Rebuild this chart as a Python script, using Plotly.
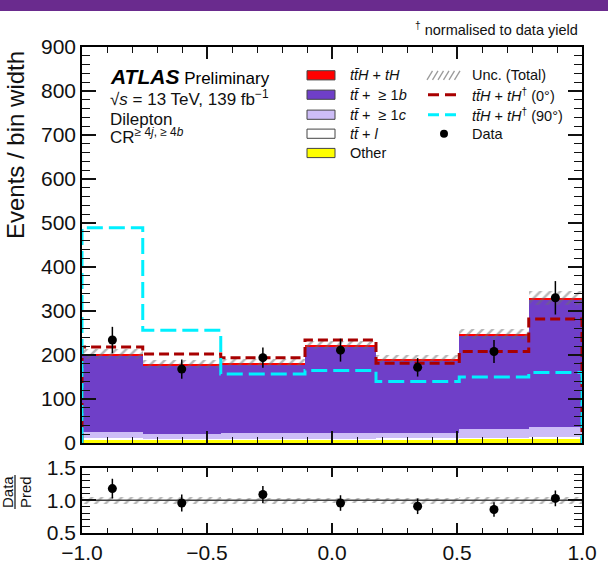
import plotly.graph_objects as go
from plotly.subplots import make_subplots

# ---------------- data ----------------
bin_edges = [-1.0, -0.757, -0.445, -0.108, 0.176, 0.509, 0.787, 1.0]
other = [9, 8, 8, 8, 9, 10, 11]
tt_light = [2, 2, 2, 2, 2, 2, 2]
tt_1c = [14, 10.5, 13.5, 13.5, 12.5, 19, 24]
tt_1b = [174, 156, 156, 196, 164, 213, 287]
tth = [3, 3, 3, 3, 3, 4, 5]
unc_total = [11, 9, 8, 9, 9, 12, 16]
cp0 = [218, 202, 194, 234, 181, 208, 282]
cp90 = [489, 256, 157, 165, 140, 150, 160]
data = [234, 168, 194, 211, 172, 208, 330]
data_err = [30, 22, 23, 26, 21, 26, 38]
ratio = [1.18, 0.96, 1.09, 0.96, 0.91, 0.86, 1.03]
ratio_err = [0.15, 0.13, 0.13, 0.12, 0.12, 0.11, 0.12]

y_ticks_main = [0, 100, 200, 300, 400, 500, 600, 700, 800, 900]
x_ticks = [-1.0, -0.5, 0.0, 0.5, 1.0]
y_ticks_ratio = [0.5, 1.0, 1.5]

# ---------------- derived ----------------
centers = [(a + b) / 2 for a, b in zip(bin_edges[:-1], bin_edges[1:])]
widths = [b - a for a, b in zip(bin_edges[:-1], bin_edges[1:])]
n = len(centers)


def subdivide(ticks, k):
    out = []
    for a, b in zip(ticks[:-1], ticks[1:]):
        for j in range(1, k):
            out.append(round(a + (b - a) * j / k, 6))
    return out


x_minor = subdivide(x_ticks, 5)
y_minor_main = subdivide(y_ticks_main, 5)
y_minor_ratio = subdivide(y_ticks_ratio, 5)

W, H = 608, 562
ML, MR, MT, MB = 82, 26, 47, 29
PW, PH = W - ML - MR, H - MT - MB


def px(x):
    return (x - ML) / PW


def py(y):
    return (H - MB - y) / PH


main_bottom = py(443)
ratio_top = py(467.7)

FONT = "Liberation Sans, Arial, Helvetica, sans-serif"

fig = make_subplots(rows=2, cols=1, shared_xaxes=False, vertical_spacing=0.0)

# stacked components
components = [
    ("Other", other, "#ffff00"),
    ("tt+l", tt_light, "#ffffff"),
    ("tt+>=1c", tt_1c, "#cdbdf7"),
    ("tt+>=1b", tt_1b, "#6f3fc8"),
    ("ttH+tH", tth, "#ff0000"),
]
base = [0.0] * n
for name, vals, col in components:
    fig.add_trace(go.Bar(x=centers, y=vals, base=list(base), width=widths,
                         marker=dict(color=col, line=dict(width=0)),
                         name=name, showlegend=False, hoverinfo="skip"),
                  row=1, col=1)
    base = [b + v for b, v in zip(base, vals)]
total = base

HATCH = dict(shape="/", fgcolor="#6e6e6e", size=7, solidity=0.35, fillmode="overlay")

# uncertainty hatch (main)
fig.add_trace(go.Bar(x=centers, y=[2 * u for u in unc_total],
                     base=[t - u for t, u in zip(total, unc_total)], width=widths,
                     marker=dict(color="rgba(0,0,0,0)", line=dict(width=0), pattern=HATCH),
                     showlegend=False, hoverinfo="skip"), row=1, col=1)


def step(vals):
    xs = [bin_edges[0]] + list(bin_edges) + [bin_edges[-1]]
    ys = [0] + list(vals) + [vals[-1], 0]
    return xs, ys


sx, sy = step(cp0)
fig.add_trace(go.Scatter(x=sx, y=sy, mode="lines", line_shape="hv",
                         line=dict(color="#a80000", width=3, dash="10px,5px"),
                         showlegend=False, hoverinfo="skip"), row=1, col=1)
sx, sy = step(cp90)
fig.add_trace(go.Scatter(x=sx, y=sy, mode="lines", line_shape="hv",
                         line=dict(color="#00f0ff", width=3, dash="16px,6px"),
                         showlegend=False, hoverinfo="skip"), row=1, col=1)

fig.add_trace(go.Scatter(x=centers, y=data, mode="markers",
                         marker=dict(color="black", size=9),
                         error_y=dict(type="data", array=data_err, color="black",
                                      thickness=1.5, width=0),
                         showlegend=False), row=1, col=1)

# ratio panel
rel = [u / t for u, t in zip(unc_total, total)]
fig.add_trace(go.Scatter(x=[bin_edges[0], bin_edges[-1]], y=[1, 1], mode="lines",
                         line=dict(color="#444444", width=1.5),
                         showlegend=False, hoverinfo="skip"), row=2, col=1)
fig.add_trace(go.Bar(x=centers, y=[2 * r for r in rel], base=[1 - r for r in rel],
                     width=widths,
                     marker=dict(color="rgba(0,0,0,0)", line=dict(width=0), pattern=HATCH),
                     showlegend=False, hoverinfo="skip"), row=2, col=1)
fig.add_trace(go.Scatter(x=centers, y=ratio, mode="markers",
                         marker=dict(color="black", size=9),
                         error_y=dict(type="data", array=ratio_err, color="black",
                                      thickness=1.5, width=0),
                         showlegend=False), row=2, col=1)

axis_common = dict(showline=True, linecolor="black", linewidth=1.5, mirror="allticks",
                   ticks="inside", tickcolor="#111111", tickwidth=1.6, showgrid=False,
                   zeroline=False, automargin=False, layer="above traces",
                   tickfont=dict(family=FONT, size=21, color="#111"))


def minor(vals, ln):
    return dict(ticks="inside", tickvals=vals, ticklen=ln,
                tickcolor="#111111", tickwidth=1.4)


fig.update_xaxes(range=[-1, 1], tickvals=x_ticks, ticklen=12, showticklabels=False,
                 minor=minor(x_minor, 6), domain=[0, 1], **axis_common, row=1, col=1)
fig.update_xaxes(range=[-1, 1], tickvals=x_ticks, ticklen=10, tickformat=".1f",
                 ticklabelstandoff=0, minor=minor(x_minor, 5),
                 domain=[0, 1], **axis_common, row=2, col=1)
fig.update_yaxes(range=[0, 900], tickvals=y_ticks_main, ticklen=14,
                 minor=minor(y_minor_main, 8),
                 domain=[main_bottom, 1], **axis_common, row=1, col=1)
fig.update_yaxes(range=[0.5, 1.5], tickvals=y_ticks_ratio, ticklen=14, tickformat=".1f",
                 minor=minor(y_minor_ratio, 8),
                 domain=[0, ratio_top], **axis_common, row=2, col=1)

shapes = []
annotations = []

# top purple banner strip
shapes.append(dict(type="rect", xref="paper", yref="paper", x0=px(0), x1=px(W),
                   y0=py(11), y1=py(0), fillcolor="#6a2b8e", line=dict(width=0), layer="above"))

# legend, left column
leg_rows = [75.3, 94.7, 114.7, 133.7, 153.0]
left_items = [
    ("#ff0000", "<i>tt\u0304H</i> + <i>tH</i>"),
    ("#6f3fc8", "<i>tt\u0304</i> +  \u2265 1<i>b</i>"),
    ("#cdbdf7", "<i>tt\u0304</i> +  \u2265 1<i>c</i>"),
    ("#ffffff", "<i>tt\u0304</i> + <i>l</i>"),
    ("#ffff00", "Other"),
]
LEGF = 14.5
for yrow, (col, txt) in zip(leg_rows, left_items):
    shapes.append(dict(type="rect", xref="paper", yref="paper",
                       x0=px(307), x1=px(335), y0=py(yrow + 4.6), y1=py(yrow - 4.6),
                       fillcolor=col, line=dict(color="#444444", width=1)))
    annotations.append(dict(xref="paper", yref="paper", x=px(348), y=py(yrow),
                            xanchor="left", yanchor="middle", showarrow=False, text=txt,
                            font=dict(family=FONT, size=LEGF, color="#111")))

# legend, right column
for i in range(6):
    x0 = 427 + 5.5 * i
    shapes.append(dict(type="line", xref="paper", yref="paper",
                       x0=px(x0), x1=px(x0 + 5.5), y0=py(leg_rows[0] + 4.5),
                       y1=py(leg_rows[0] - 4.5), line=dict(color="#9a9a9a", width=1.3)))
shapes.append(dict(type="line", xref="paper", yref="paper", x0=px(428), x1=px(460),
                   y0=py(leg_rows[1]), y1=py(leg_rows[1]),
                   line=dict(color="#a80000", width=3, dash="11px,6px")))
shapes.append(dict(type="line", xref="paper", yref="paper", x0=px(428), x1=px(460),
                   y0=py(leg_rows[2]), y1=py(leg_rows[2]),
                   line=dict(color="#00f0ff", width=3, dash="11px,6px")))
shapes.append(dict(type="circle", xref="paper", yref="paper", x0=px(440), x1=px(448),
                   y0=py(leg_rows[3] + 4), y1=py(leg_rows[3] - 4),
                   fillcolor="black", line=dict(color="black", width=0)))
right_items = [
    "Unc. (Total)",
    "<i>tt\u0304H</i> + <i>tH</i><sup>\u2020</sup> (0\u00b0)",
    "<i>tt\u0304H</i> + <i>tH</i><sup>\u2020</sup> (90\u00b0)",
    "Data",
]
for yrow, txt in zip(leg_rows, right_items):
    annotations.append(dict(xref="paper", yref="paper", x=px(470), y=py(yrow),
                            xanchor="left", yanchor="middle", showarrow=False, text=txt,
                            font=dict(family=FONT, size=LEGF, color="#111")))

# ATLAS label block
annotations += [
    dict(xref="paper", yref="paper", x=px(108), y=py(76), xanchor="left", yanchor="middle",
         showarrow=False,
         text="<b><i>ATLAS</i></b><span style='font-size:17px'> Preliminary</span>",
         font=dict(family=FONT, size=21, color="black")),
    dict(xref="paper", yref="paper", x=px(108), y=py(98), xanchor="left", yanchor="middle",
         showarrow=False, text="\u221a<i>s</i> = 13 TeV, 139 fb<sup>\u22121</sup>",
         font=dict(family=FONT, size=17, color="#111")),
    dict(xref="paper", yref="paper", x=px(108), y=py(119), xanchor="left", yanchor="middle",
         showarrow=False, text="Dilepton",
         font=dict(family=FONT, size=17, color="#111")),
    dict(xref="paper", yref="paper", x=px(108), y=py(136), xanchor="left", yanchor="middle",
         showarrow=False,
         text="CR<sup>\u2265 4<i>j</i>, \u2265 4<i>b</i></sup>",
         font=dict(family=FONT, size=17, color="#111")),
    dict(xref="paper", yref="paper", x=px(580), y=py(29), xanchor="right", yanchor="middle",
         showarrow=False, text="<sup>\u2020</sup> normalised to data yield",
         font=dict(family=FONT, size=14.5, color="#111")),
    dict(xref="paper", yref="paper", x=px(15), y=py(49), xanchor="center", yanchor="top",
         showarrow=False, textangle=-90, text="Events / bin width",
         font=dict(family=FONT, size=24, color="#111")),
    dict(xref="paper", yref="paper", x=px(7), y=py(492), xanchor="center", yanchor="middle",
         showarrow=False, textangle=-90, text="Data",
         font=dict(family=FONT, size=15, color="#111")),
    dict(xref="paper", yref="paper", x=px(25), y=py(492), xanchor="center", yanchor="middle",
         showarrow=False, textangle=-90, text="Pred",
         font=dict(family=FONT, size=15, color="#111")),
]
shapes.append(dict(type="line", xref="paper", yref="paper", x0=px(15), x1=px(15),
                   y0=py(509), y1=py(475), line=dict(color="#111", width=1.2)))

fig.update_layout(
    width=W, height=H, margin=dict(l=ML, r=MR, t=MT, b=MB, autoexpand=False),
    barmode="overlay", bargap=0,
    plot_bgcolor="white", paper_bgcolor="white",
    shapes=shapes, annotations=annotations, showlegend=False,
    font=dict(family=FONT, color="#111"),
)

fig.write_html("out.html", config={"displayModeBar": False},
               post_script="document.body.style.margin='0';"
                           "document.body.style.overflow='hidden';")
